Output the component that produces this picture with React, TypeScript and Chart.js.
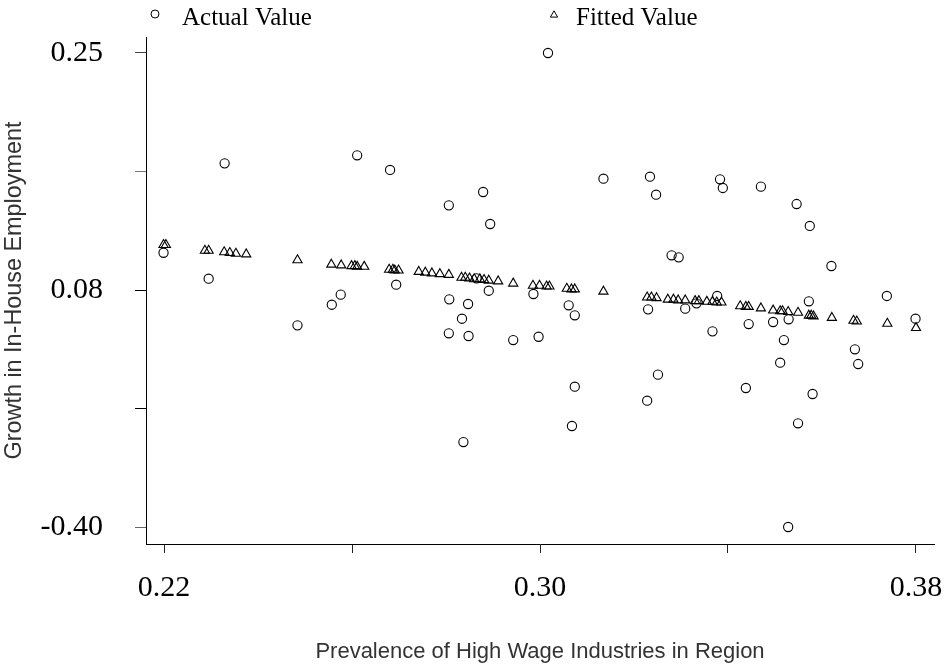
import React, { useEffect, useRef } from 'react';
import { Chart, registerables } from 'chart.js';

Chart.register(...registerables);

// Actual values (circles)
const actualX = [
  0.2199, 0.2329, 0.2295, 0.2611, 0.2681, 0.2879, 0.2806, 0.2894, 0.2694, 0.2576,
  0.2557, 0.2484, 0.2807, 0.2847, 0.2834, 0.2806, 0.2848, 0.2943, 0.2997, 0.2891,
  0.2986, 0.2837, 0.2865, 0.3135, 0.3234, 0.3247, 0.3383, 0.3389, 0.3470, 0.3546,
  0.3574, 0.3620, 0.3280, 0.3295, 0.3061, 0.3074, 0.3074, 0.3068, 0.3230, 0.3251,
  0.3228, 0.3309, 0.3377, 0.3367, 0.3333, 0.3444, 0.3496, 0.3529, 0.3519, 0.3511,
  0.3438, 0.3580, 0.3549, 0.3572, 0.3738, 0.3799, 0.3670, 0.3677, 0.3017, 0.3528,
];
const actualY = [
  -0.0239, 0.0987, -0.0595, 0.1097, 0.0896, 0.0594, 0.0411, 0.0155, -0.0677, -0.0814,
  -0.0952, -0.1235, -0.0878, -0.0942, -0.1144, -0.1344, -0.1381, -0.1436, -0.1391, -0.0760,
  -0.0805, -0.2835, -0.0590, 0.0776, 0.0804, 0.0557, 0.0768, 0.0649, 0.0667, 0.0429,
  0.0128, -0.0421, -0.0274, -0.0302, -0.0960, -0.1097, -0.2076, -0.2615, -0.1015, -0.1911,
  -0.2268, -0.1006, -0.0832, -0.1317, -0.0933, -0.1217, -0.1189, -0.1152, -0.1436, -0.1747,
  -0.2094, -0.2176, -0.2578, -0.0905, -0.0832, -0.1144, -0.1563, -0.1765, 0.25, -0.40,
];

// Fitted values (triangles)
const fittedX = [
  0.2199, 0.2204, 0.2287, 0.2295, 0.2328, 0.2340, 0.2353, 0.2375, 0.2484, 0.2556,
  0.2577, 0.2599, 0.2606, 0.2611, 0.2626, 0.2679, 0.2687, 0.2691, 0.2699, 0.2742,
  0.2756, 0.2770, 0.2787, 0.2806, 0.2833, 0.2841, 0.2850, 0.2860, 0.2872, 0.2881,
  0.2891, 0.2911, 0.2943, 0.2985, 0.2999, 0.3014, 0.3020, 0.3057, 0.3067, 0.3074,
  0.3135, 0.3228, 0.3237, 0.3248, 0.3272, 0.3284, 0.3294, 0.3309, 0.3330, 0.3338,
  0.3355, 0.3367, 0.3376, 0.3386, 0.3426, 0.3438, 0.3444, 0.3470, 0.3496, 0.3511,
  0.3516, 0.3528, 0.3549, 0.3572, 0.3577, 0.3582, 0.3621, 0.3667, 0.3674, 0.3739,
  0.3800,
];
const fittedY = [
  -0.013, -0.013, -0.021, -0.021, -0.023, -0.024, -0.025, -0.026, -0.034, -0.040,
  -0.041, -0.042, -0.042, -0.043, -0.043, -0.047, -0.047, -0.048, -0.048, -0.050,
  -0.051, -0.052, -0.053, -0.054, -0.058, -0.058, -0.059, -0.060, -0.060, -0.061,
  -0.062, -0.063, -0.066, -0.069, -0.069, -0.070, -0.070, -0.073, -0.074, -0.074,
  -0.077, -0.085, -0.085, -0.086, -0.088, -0.088, -0.089, -0.089, -0.090, -0.090,
  -0.091, -0.091, -0.092, -0.092, -0.097, -0.098, -0.098, -0.100, -0.103, -0.104,
  -0.104, -0.105, -0.106, -0.110, -0.110, -0.111, -0.113, -0.117, -0.118, -0.121,
  -0.127,
];

const xTickValues = [0.22, 0.26, 0.30, 0.34, 0.38];
const xTickLabels = ['0.22', '', '0.30', '', '0.38'];
const yTickValues = [0.25, 0.0875, -0.075, -0.2375, -0.40];
const yTickLabels = ['0.25', '', '0.08', '', '-0.40'];
const yTickColors = ['#444', '#777', '#000', '#000', '#666'];
const legendLabels = ['Actual Value', 'Fitted Value'];
const xTitle = 'Prevalence of High Wage Industries in Region';
const yTitle = 'Growth in In-House Employment';

const legendPlugin = {
  id: 'topLegend',
  afterDraw(chart: any) {
    const ctx = chart.ctx as CanvasRenderingContext2D;
    ctx.save();
    ctx.strokeStyle = '#000';
    ctx.lineWidth = 1;
    // circle marker
    ctx.beginPath();
    ctx.arc(155, 14, 4, 0, Math.PI * 2);
    ctx.stroke();
    // triangle marker
    const tx = 554, ty = 15, r = 4.2;
    ctx.beginPath();
    ctx.moveTo(tx, ty - r);
    ctx.lineTo(tx + r * Math.sin((2 * Math.PI) / 3), ty - r * Math.cos((2 * Math.PI) / 3));
    ctx.lineTo(tx + r * Math.sin((4 * Math.PI) / 3), ty - r * Math.cos((4 * Math.PI) / 3));
    ctx.closePath();
    ctx.stroke();
    ctx.fillStyle = '#000';
    ctx.font = '25px "Liberation Serif"';
    ctx.textBaseline = 'alphabetic';
    ctx.textAlign = 'left';
    ctx.fillText(legendLabels[0], 182, 25);
    ctx.fillText(legendLabels[1], 576, 25);
    ctx.restore();
  },
};

export default function App() {
  const ref = useRef<HTMLCanvasElement | null>(null);

  useEffect(() => {
    if (!ref.current) return;
    const chart = new Chart(ref.current, {
      type: 'scatter',
      data: {
        datasets: [
          {
            label: legendLabels[0],
            data: actualX.map((x, i) => ({ x, y: actualY[i] })),
            pointStyle: 'circle',
            pointRadius: 4.6,
            borderColor: '#000',
            backgroundColor: 'rgba(0,0,0,0)',
            borderWidth: 1.1,
          },
          {
            label: legendLabels[1],
            data: fittedX.map((x, i) => ({ x, y: fittedY[i] })),
            pointStyle: 'triangle',
            pointRadius: 5.3,
            borderColor: '#000',
            backgroundColor: 'rgba(0,0,0,0)',
            borderWidth: 1.1,
          },
        ],
      },
      plugins: [legendPlugin],
      options: {
        animation: false,
        responsive: true,
        maintainAspectRatio: false,
        layout: { padding: { top: 37, right: 17, left: 0, bottom: 0 } },
        plugins: {
          legend: { display: false },
          tooltip: { enabled: false },
        },
        scales: {
          x: {
            type: 'linear',
            min: 0.21617,
            max: 0.38383,
            afterBuildTicks: (scale: any) => {
              scale.ticks = xTickValues.map((v) => ({ value: v }));
            },
            afterFit: (scale: any) => {
              scale.height = 121;
              scale.paddingLeft = 0;
              scale.paddingRight = 0;
            },
            ticks: {
              autoSkip: false,
              maxRotation: 0,
              padding: 17,
              color: '#000',
              font: { family: '"Liberation Serif"', size: 30 },
              callback: (_v: any, i: number) => xTickLabels[i],
            },
            grid: {
              display: true,
              drawOnChartArea: false,
              drawTicks: true,
              tickLength: 9,
              color: '#222',
            },
            border: { display: true, color: '#000', width: 1 },
            title: {
              display: true,
              text: xTitle,
              color: '#333',
              font: { family: '"Liberation Sans"', size: 22, lineHeight: 1.2 },
              padding: 0,
            },
          },
          y: {
            type: 'linear',
            min: -0.42331,
            max: 0.27194,
            afterBuildTicks: (scale: any) => {
              scale.ticks = yTickValues.map((v) => ({ value: v }));
            },
            afterFit: (scale: any) => {
              scale.width = 146;
              scale.paddingTop = 0;
              scale.paddingBottom = 0;
            },
            ticks: {
              autoSkip: false,
              padding: 32,
              color: '#000',
              font: { family: '"Liberation Serif"', size: 30 },
              callback: (_v: any, i: number) => yTickLabels[i],
            },
            grid: {
              display: true,
              drawOnChartArea: false,
              drawTicks: true,
              tickLength: 11,
              color: yTickColors,
            },
            border: { display: true, color: '#000', width: 1 },
            title: {
              display: true,
              text: yTitle,
              color: '#333',
              font: { family: '"Liberation Sans"', size: 23.4, lineHeight: 1.2 },
              padding: { top: 1, bottom: 0 },
            },
          },
        },
      },
    });
    return () => chart.destroy();
  }, []);

  return (
    <div style={{ position: 'absolute', left: 0, top: 0, width: 951, height: 665 }}>
      <canvas ref={ref} />
    </div>
  );
}
